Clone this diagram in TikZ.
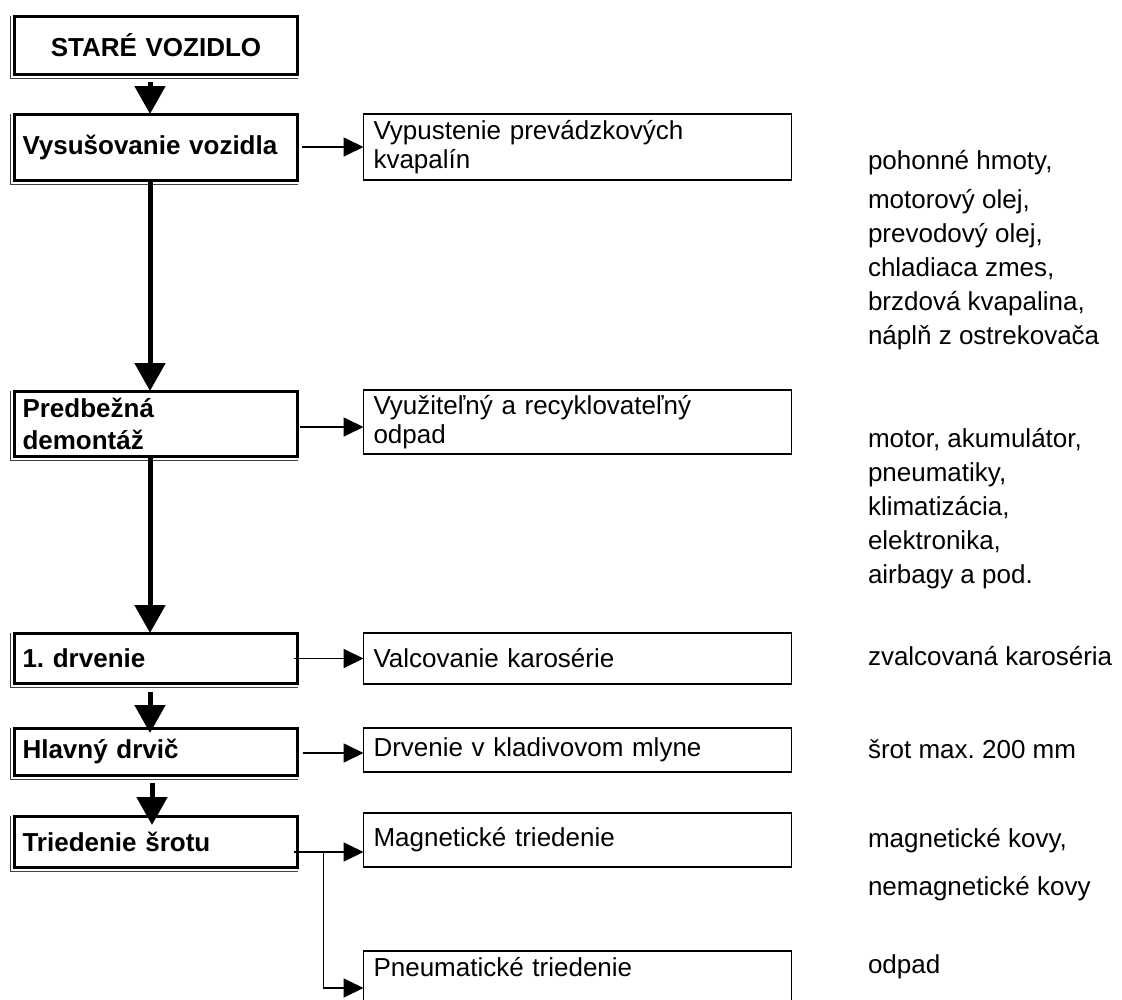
\documentclass[tikz,border=0pt]{standalone}
\usepackage{fontspec}
\setmainfont{Liberation Sans}
\usetikzlibrary{arrows.meta,calc}
\frenchspacing

\begin{document}
\begin{tikzpicture}[x=1pt,y=-1pt,
  every node/.style={outer sep=0pt},
  stage/.style={draw, line width=3pt, minimum width=283pt, text width=267pt,
    inner xsep=8pt, inner ysep=0pt, align=left,
    font=\fontsize{26}{32}\selectfont\bfseries},
  proc/.style={draw, line width=1.4pt, minimum width=428pt, text width=408pt,
    inner xsep=10pt, inner ysep=0pt, align=left,
    font=\fontsize{26}{29}\selectfont},
  note/.style={anchor=base west, inner sep=0pt, font=\fontsize{26}{30}\selectfont},
  flow/.style={line width=5pt, -{Triangle[width=30pt,length=28pt]}},
  feed/.style={line width=1.8pt, -{Triangle[width=19pt,length=20pt]}},
  frameline/.style={line width=1pt, black!75},
]
\useasboundingbox (0,0) rectangle (1122,999);
\clip (0,0) rectangle (1122,999);

% main process stages
\node[stage, align=center, minimum height=58pt] (old)  at (156,45)    {STARÉ VOZIDLO};
\node[stage, minimum height=66pt]               (dry)  at (156,147)   {Vysušovanie vozidla};
\node[stage, minimum height=65pt]               (pre)  at (156,423.5) {Predbežná\\demontáž};
\node[stage, minimum height=50pt]               (cr1)  at (156,658)   {1. drvenie};
\node[stage, minimum height=47pt]               (main) at (156,751.5) {Hlavný drvič};
\node[stage, minimum height=51pt]               (sort) at (156,841.5) {Triedenie šrotu};

% thin outer rule on the left and bottom of each stage frame
\foreach \n in {old,dry,pre,cr1,main,sort}
  \draw[frameline] ([xshift=-4pt]\n.north west) |- ([yshift=-4pt]\n.south east);

% operations
\node[proc, minimum height=66pt] (drain) at (577.5,147)   {Vypustenie prevádzkových\\kvapalín};
\node[proc, minimum height=64pt] (reuse) at (577.5,422)   {Využiteľný a recyklovateľný\\odpad};
\node[proc, minimum height=51pt] (roll)  at (577.5,658.5) {Valcovanie karosérie};
\node[proc, minimum height=44pt] (mill)  at (577.5,750)   {Drvenie v kladivovom mlyne};
\node[proc, minimum height=54pt] (mag)   at (577.5,840)   {Magnetické triedenie};
\node[proc, anchor=north, text height=25pt, text depth=35pt] (pneu) at (577.5,951) {Pneumatické triedenie};

% products
\node[note] (p1) at (868,169) {pohonné hmoty,};
\node[note] (p2) at (868,208) {motorový olej,};
\node[note] (p3) at (868,242) {prevodový olej,};
\node[note] (p4) at (868,276) {chladiaca zmes,};
\node[note] (p5) at (868,310) {brzdová kvapalina,};
\node[note] (p6) at (868,344) {náplň z ostrekovača};
\node[note] (q1) at (868,447) {motor, akumulátor,};
\node[note] (q2) at (868,481) {pneumatiky,};
\node[note] (q3) at (868,515) {klimatizácia,};
\node[note] (q4) at (868,549) {elektronika,};
\node[note] (q5) at (868,583) {airbagy a pod.};
\node[note] (r1) at (868,665) {zvalcovaná karoséria};
\node[note] (r2) at (868,758) {šrot max. 200 mm};
\node[note] (r3) at (868,847) {magnetické kovy,};
\node[note] (r4) at (868,895) {nemagnetické kovy};
\node[note] (r5) at (868,973) {odpad};

% main flow
\draw[flow] ([xshift=-6pt,yshift=-8pt]old.south) -- ([xshift=-6pt]dry.north);
\draw[flow] ([xshift=-6pt]dry.south) -- ([xshift=-6pt]pre.north);
\draw[flow] ([xshift=-6pt]pre.south) -- ([xshift=-6pt]cr1.north);
\draw[flow] ([xshift=-6pt,yshift=-9pt]cr1.south) -- ([xshift=-6pt,yshift=-5pt]main.north);
\draw[flow] ([xshift=-4pt,yshift=-8pt]main.south) -- ([xshift=-4pt,yshift=-9pt]sort.north);

% side branches
\draw[feed] ([xshift=4pt]dry.east) -- (drain.west);
\coordinate (in2) at ([yshift=-5pt]reuse.west);
\draw[feed] ([xshift=2pt]pre.east |- in2) -- (in2);
\draw[feed] ([xshift=-4pt]cr1.east |- roll.west) -- (roll.west);
\coordinate (in4) at ([yshift=-3pt]mill.west);
\draw[feed] ([xshift=5pt]main.east |- in4) -- (in4);
\coordinate (in5) at ([yshift=-12pt]mag.west);
\draw[feed] ([xshift=-4pt]sort.east |- in5) -- (in5);
\coordinate (fork) at ([xshift=26pt]sort.east |- in5);
\coordinate (in6) at ([yshift=-7pt]pneu.west);
\draw[feed] (fork) |- (in6);
\end{tikzpicture}
\end{document}
